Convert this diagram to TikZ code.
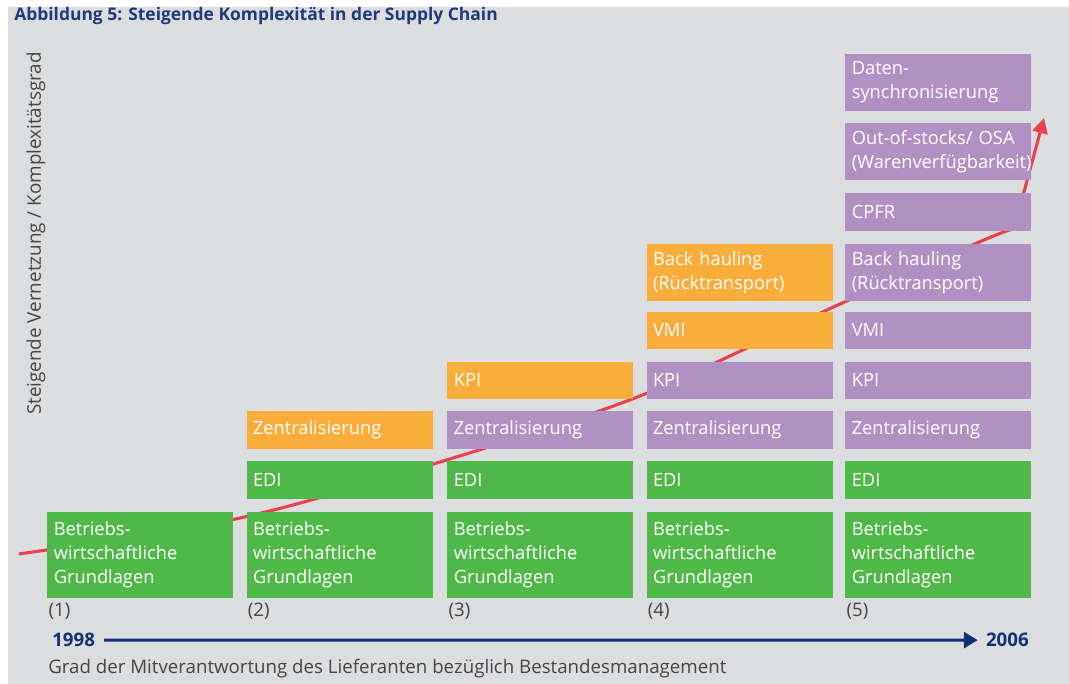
\documentclass[tikz,border=0pt]{standalone}
\usepackage{fontspec}
\setmainfont{Open Sans}
\usepackage{tikz}
\usetikzlibrary{positioning, backgrounds, arrows.meta}

\definecolor{panelgray}{HTML}{DCDDDF}
\definecolor{edigreen}{HTML}{50B848}
\definecolor{steporange}{HTML}{FBAD3B}
\definecolor{steplilac}{HTML}{B190C4}
\definecolor{titleblue}{HTML}{1F3A7A}
\definecolor{axisblue}{HTML}{0F3272}
\definecolor{trendred}{HTML}{E8424F}
\definecolor{labelgray}{HTML}{464646}

\begin{document}
\begin{tikzpicture}[
      boxnode/.style={rectangle, draw=none, text=white, align=left,
          text width=4.33cm, inner xsep=0.16cm, inner ysep=0pt,
          minimum height=0.94cm, font=\fontsize{13}{17}\selectfont},
      gbox/.style={boxnode, fill=edigreen},
      obox/.style={boxnode, fill=steporange},
      pbox/.style={boxnode, fill=steplilac},
      tallbox/.style={minimum height=1.425cm},
      basebox/.style={minimum height=2.15cm},
      stagelbl/.style={anchor=base west, inner sep=0pt, text=labelgray,
          font=\fontsize{13.3}{15}\selectfont},
      yearlbl/.style={inner sep=0pt, text=axisblue,
          font=\bfseries\fontsize{13.3}{15}\selectfont},
      trend/.style={-{Triangle[length=0.38cm, width=0.38cm]}, trendred,
          line width=2.2pt},
      timeline/.style={-{Triangle[length=0.35cm, width=0.4cm]}, axisblue,
          line width=2.1pt},
    ]

    \useasboundingbox (0, 0) rectangle (26.725, 17.1);
    \begin{scope}[on background layer]
      \fill[panelgray] (0.2, 0) rectangle (26.725, 16.925);
    \end{scope}

    %% -- title and axis texts ------------------------------------------------
    \node[anchor=base west, inner sep=0pt, text=titleblue,
      font=\bfseries\fontsize{12.4}{14}\selectfont] at (0.35, 16.58) (title)
    {Abbildung 5: Steigende Komplexität in der Supply Chain};

    \node[rotate=90, anchor=base, inner sep=0pt, text=labelgray,
      font=\fontsize{13.4}{15}\selectfont] at (1.02, 11.26) (yaxis)
    {Steigende Vernetzung / Komplexitätsgrad};

    \node[anchor=base west, inner sep=0pt, text=labelgray,
      font=\fontsize{13.3}{15}\selectfont] at (1.2, 0.25) (xaxis)
    {Grad der Mitverantwortung des Lieferanten bezüglich Bestandesmanagement};

    %% -- stage (1) -----------------------------------------------------------
    \node[gbox, basebox] at (3.51, 3.225) (b1)
    {Betriebs-\\wirtschaftliche\\Grundlagen};

    %% -- stage (2) -----------------------------------------------------------
    \node[gbox, basebox] at (8.49, 3.225) (b2)
    {Betriebs-\\wirtschaftliche\\Grundlagen};
    \node[gbox] at (8.49, 5.1)  (edi2)  {EDI};
    \node[obox] at (8.49, 6.35) (zent2) {Zentralisierung};

    %% -- stage (3) -----------------------------------------------------------
    \node[gbox, basebox] at (13.51, 3.225) (b3)
    {Betriebs-\\wirtschaftliche\\Grundlagen};
    \node[gbox] at (13.51, 5.1)  (edi3)  {EDI};
    \node[pbox] at (13.51, 6.35) (zent3) {Zentralisierung};
    \node[obox] at (13.51, 7.59) (kpi3)  {KPI};

    %% -- stage (4) -----------------------------------------------------------
    \node[gbox, basebox] at (18.49, 3.225) (b4)
    {Betriebs-\\wirtschaftliche\\Grundlagen};
    \node[gbox] at (18.49, 5.1)  (edi4)  {EDI};
    \node[pbox] at (18.49, 6.35) (zent4) {Zentralisierung};
    \node[pbox] at (18.49, 7.59) (kpi4)  {KPI};
    \node[obox] at (18.49, 8.84) (vmi4)  {VMI};
    \node[obox, tallbox] at (18.49, 10.29) (back4)
    {Back hauling\\(Rücktransport)};

    %% -- stage (5) -----------------------------------------------------------
    \node[gbox, basebox] at (23.46, 3.225) (b5)
    {Betriebs-\\wirtschaftliche\\Grundlagen};
    \node[gbox] at (23.46, 5.1)  (edi5)  {EDI};
    \node[pbox] at (23.46, 6.35) (zent5) {Zentralisierung};
    \node[pbox] at (23.46, 7.59) (kpi5)  {KPI};
    \node[pbox] at (23.46, 8.84) (vmi5)  {VMI};
    \node[pbox, tallbox] at (23.46, 10.29) (back5)
    {Back hauling\\(Rücktransport)};
    \node[pbox] at (23.46, 11.8) (cpfr5) {CPFR};
    \node[pbox, tallbox] at (23.46, 13.31) (oos5)
    {Out-of-stocks/ OSA\\(Warenverfügbarkeit)};
    \node[pbox, tallbox] at (23.46, 15.04) (daten5)
    {Daten-\\synchronisierung};

    %% -- stage numbers -------------------------------------------------------
    \node[stagelbl] at (1.21, 1.68)  (n1) {(1)};
    \node[stagelbl] at (6.19, 1.68)  (n2) {(2)};
    \node[stagelbl] at (11.21, 1.68) (n3) {(3)};
    \node[stagelbl] at (16.19, 1.68) (n4) {(4)};
    \node[stagelbl] at (21.16, 1.68) (n5) {(5)};

    %% -- time axis -----------------------------------------------------------
    \node[yearlbl, anchor=base west] at (1.3, 0.93)    (y1998) {1998};
    \node[yearlbl, anchor=base east] at (25.725, 0.93) (y2006) {2006};
    \draw[timeline, shorten <=0.22cm, shorten >=0.2cm] (y1998) -- (y2006);

    %% -- rising trend behind the boxes ---------------------------------------
    \begin{scope}[on background layer]
      \draw[trend] plot[smooth, tension=0.5] coordinates
        {(0.475, 3.25) (6.0, 4.15) (11.0, 5.55) (16.0, 7.2) (21.0, 9.5)
         (24.6, 11.1) (25.35, 11.38)}
        -- (26.1, 14.15);
    \end{scope}

  \end{tikzpicture}
\end{document}
